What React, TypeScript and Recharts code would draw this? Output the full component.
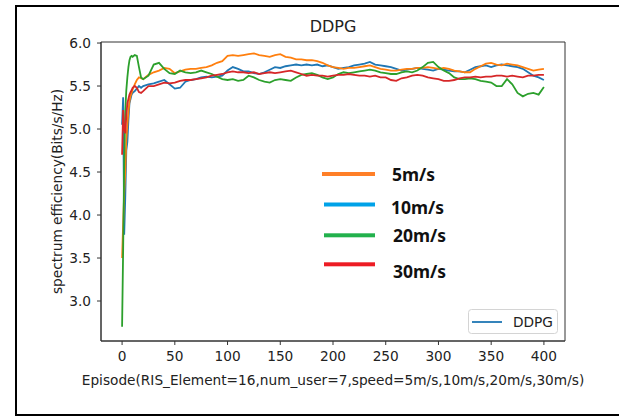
import React from 'react';
import { LineChart, Line, XAxis, YAxis, ReferenceArea, Legend } from 'recharts';

// episode index of each sample
const episodes = [
  0, 1, 2, 3, 4, 5, 6, 7, 8, 9, 10, 12, 14, 16, 18, 20,
  25, 30, 35, 40, 45, 50, 55, 60, 65, 70, 75, 80, 85, 90, 95, 100,
  105, 110, 115, 120, 125, 130, 135, 140, 145, 150, 155, 160, 165, 170, 175, 180,
  185, 190, 195, 200, 205, 210, 215, 220, 225, 230, 235, 240, 245, 250, 255, 260,
  265, 270, 275, 280, 285, 290, 295, 300, 305, 310, 315, 320, 325, 330, 335, 340,
  345, 350, 355, 360, 365, 370, 375, 380, 385, 390, 395, 400,
];

const speed5 = [
  3.5, 3.9, 4.25, 4.5, 4.87, 5.05, 5.2, 5.32, 5.38, 5.42, 5.46, 5.52, 5.57, 5.6, 5.59, 5.58,
  5.63, 5.66, 5.68, 5.71, 5.7, 5.65, 5.67, 5.69, 5.7, 5.7, 5.71, 5.72, 5.74, 5.77, 5.79, 5.85,
  5.86, 5.85, 5.86, 5.87, 5.88, 5.86, 5.85, 5.84, 5.86, 5.87, 5.84, 5.83, 5.81, 5.81, 5.8, 5.8,
  5.79, 5.77, 5.74, 5.72, 5.71, 5.7, 5.71, 5.71, 5.72, 5.73, 5.74, 5.72, 5.7, 5.69, 5.68, 5.68,
  5.69, 5.7, 5.7, 5.71, 5.71, 5.72, 5.71, 5.7, 5.71, 5.7, 5.68, 5.67, 5.66, 5.66, 5.7, 5.73,
  5.76, 5.77, 5.75, 5.74, 5.76, 5.75, 5.74, 5.72, 5.7, 5.68, 5.69, 5.7,
];

const speed10 = [
  5.05, 5.37, 3.77, 4.2, 4.75, 4.85, 5.1, 5.3, 5.35, 5.4, 5.42, 5.44, 5.47, 5.5, 5.48, 5.5,
  5.52, 5.53, 5.55, 5.57, 5.52, 5.47, 5.48, 5.55, 5.57, 5.58, 5.6, 5.61, 5.6, 5.61, 5.62, 5.68,
  5.72, 5.7, 5.67, 5.67, 5.65, 5.64, 5.66, 5.69, 5.72, 5.71, 5.73, 5.74, 5.75, 5.74, 5.75, 5.74,
  5.75, 5.73, 5.74, 5.72, 5.7, 5.71, 5.72, 5.74, 5.75, 5.76, 5.78, 5.75, 5.74, 5.73, 5.72, 5.7,
  5.68, 5.69, 5.7, 5.71, 5.7, 5.69, 5.68, 5.7, 5.69, 5.68, 5.67, 5.67, 5.66, 5.69, 5.72, 5.73,
  5.74, 5.72, 5.74, 5.75, 5.74, 5.73, 5.72, 5.7, 5.66, 5.62, 5.6, 5.57,
];

const speed20 = [
  2.7, 3.6, 4.6, 5.2, 5.45, 5.6, 5.72, 5.8, 5.84, 5.85, 5.84, 5.86, 5.85, 5.72, 5.6, 5.58,
  5.62, 5.75, 5.77, 5.7, 5.65, 5.64, 5.68, 5.66, 5.65, 5.66, 5.68, 5.66, 5.64, 5.61, 5.58, 5.57,
  5.58, 5.56, 5.57, 5.62, 5.6, 5.57, 5.55, 5.54, 5.57, 5.58, 5.57, 5.56, 5.6, 5.63, 5.64, 5.65,
  5.63, 5.6, 5.58, 5.6, 5.64, 5.66, 5.65, 5.66, 5.67, 5.68, 5.69, 5.68, 5.66, 5.65, 5.64, 5.64,
  5.66, 5.67, 5.66, 5.68, 5.72, 5.77, 5.78, 5.72, 5.68, 5.65, 5.6, 5.58, 5.58, 5.59, 5.58, 5.56,
  5.55, 5.54, 5.5, 5.5, 5.58, 5.52, 5.42, 5.38, 5.41, 5.42, 5.4, 5.49,
];

const speed30 = [
  4.7, 5.22, 5.0, 4.95, 5.15, 5.3, 5.35, 5.4, 5.43, 5.45, 5.48, 5.5, 5.48, 5.43, 5.42, 5.44,
  5.5, 5.5, 5.52, 5.54, 5.53, 5.54, 5.56, 5.57, 5.57, 5.58, 5.59, 5.6, 5.62, 5.63, 5.64, 5.66,
  5.67, 5.66, 5.66, 5.65, 5.66, 5.64, 5.65, 5.66, 5.65, 5.66, 5.67, 5.68, 5.66, 5.64, 5.62, 5.63,
  5.62, 5.62, 5.61, 5.62, 5.63, 5.63, 5.64, 5.63, 5.62, 5.62, 5.61, 5.62, 5.6, 5.6, 5.57, 5.56,
  5.59, 5.6, 5.62, 5.63, 5.62, 5.6, 5.59, 5.58, 5.56, 5.56, 5.57, 5.59, 5.6, 5.6, 5.61, 5.6,
  5.61, 5.61, 5.62, 5.62, 5.61, 5.62, 5.61, 5.6, 5.62, 5.62, 5.63, 5.63,
];

const xTicks = [0, 50, 100, 150, 200, 250, 300, 350, 400];
const yTicks = [3.0, 3.5, 4.0, 4.5, 5.0, 5.5, 6.0];

// draw order: blue first (it carries the DDPG label), red last
const series = [
  { key: 'v10', name: '10m/s', color: '#1f77b4', mark: '#00a2e8' },
  { key: 'v5', name: '5m/s', color: '#ff7f0e', mark: '#ff7f27' },
  { key: 'v20', name: '20m/s', color: '#2ca02c', mark: '#22b14c' },
  { key: 'v30', name: '30m/s', color: '#d62728', mark: '#ed1c24' },
];
const legendOrder = ['v5', 'v10', 'v20', 'v30'];

const data = episodes.map((ep, i) => ({
  ep,
  v5: speed5[i],
  v10: speed10[i],
  v20: speed20[i],
  v30: speed30[i],
}));

const font = 'DejaVu Sans';
const txt = '#222';
const fs = 13.7;

// hand-made annotation legend in the middle of the plot
const rowY = [174, 204.5, 235.3, 264.3];
const swatchX = [322, 324, 324, 324];
const labelX = [392, 391, 393, 393];
const labelBase = [181, 213.5, 242, 277.5];

const renderLegend = () => (
  <svg width={619} height={417} style={{ position: 'absolute', left: 0, top: 0 }}>
    {legendOrder.map((k, i) => {
      const s = series.find((d) => d.key === k)!;
      return (
        <g key={k}>
          <rect x={swatchX[i]} y={rowY[i] - 2} width={375 - swatchX[i]} height={4} fill={s.mark} />
          <text
            x={labelX[i]}
            y={labelBase[i]}
            fontFamily="Noto Sans"
            fontWeight="bold"
            fontSize={17.5}
            fill="#111"
          >
            {s.name}
          </text>
        </g>
      );
    })}
    <rect x={468.5} y={309.5} width={89} height={24} rx={3} fill="#fff" fillOpacity={0.8} stroke="#d4d4d4" />
    <line x1={472} y1={322} x2={502} y2={322} stroke="#1f77b4" strokeWidth={1.8} />
    <text x={513} y={327} fontFamily={font} fontSize={fs} fill={txt}>
      DDPG
    </text>
  </svg>
);

export default function App() {
  return (
    <div
      style={{
        position: 'absolute',
        left: 0,
        top: 0,
        width: 619,
        height: 417,
        overflow: 'hidden',
        background: '#fff',
      }}
    >
      <div
        style={{
          position: 'absolute',
          left: 15,
          top: 5,
          width: 620,
          height: 411,
          border: '2px solid #000',
          boxSizing: 'border-box',
        }}
      />
      <div
        style={{
          position: 'absolute',
          left: 233,
          top: 19,
          width: 200,
          textAlign: 'center',
          fontFamily: font,
          fontSize: 16,
          lineHeight: 1,
          color: txt,
        }}
      >
        DDPG
      </div>
      <div style={{ position: 'absolute', left: 0, top: 0 }}>
        <LineChart
          width={619}
          height={417}
          data={data}
          margin={{ top: 42, right: 54, bottom: 36, left: 16 }}
        >
          <XAxis
            dataKey="ep"
            type="number"
            domain={[-20, 420]}
            ticks={xTicks}
            allowDataOverflow
            height={40}
            tickSize={4}
            tickMargin={6}
            stroke="#333"
            tick={{ fontSize: fs, fill: txt, fontFamily: font }}
            label={(props: any) => {
              const vb = props.viewBox;
              return (
                <text
                  x={vb.x + vb.width / 2}
                  y={vb.y + 44}
                  textAnchor="middle"
                  fontFamily={font}
                  fontSize={fs}
                  fill={txt}
                >
                  Episode(RIS_Element=16,num_user=7,speed=5m/s,10m/s,20m/s,30m/s)
                </text>
              );
            }}
          />
          <YAxis
            type="number"
            domain={[2.535, 6.012]}
            ticks={yTicks}
            allowDataOverflow
            width={85}
            tickSize={4}
            tickMargin={6}
            stroke="#333"
            tickFormatter={(v: number) => v.toFixed(1)}
            tick={{ fontSize: fs, fill: txt, fontFamily: font }}
            label={(props: any) => {
              const vb = props.viewBox;
              const cx = vb.x + 46;
              const cy = vb.y + vb.height / 2;
              return (
                <text
                  x={cx}
                  y={cy}
                  transform={`rotate(-90 ${cx} ${cy})`}
                  textAnchor="middle"
                  fontFamily={font}
                  fontSize={fs}
                  fill={txt}
                >
                  spectrum efficiency(Bits/s/Hz)
                </text>
              );
            }}
          />
          <ReferenceArea
            x1={-20}
            x2={420}
            y1={2.535}
            y2={6.012}
            fill="none"
            stroke="#333"
            strokeWidth={1}
            ifOverflow="visible"
          />
          {series.map((s) => (
            <Line
              key={s.key}
              dataKey={s.key}
              name={s.name}
              type="linear"
              stroke={s.color}
              strokeWidth={1.8}
              dot={false}
              isAnimationActive={false}
            />
          ))}
          <Legend
            layout="vertical"
            align="center"
            verticalAlign="middle"
            content={renderLegend}
            wrapperStyle={{ position: 'absolute', left: 0, top: 0, width: 619, height: 417, pointerEvents: 'none' }}
          />
        </LineChart>
      </div>
    </div>
  );
}
